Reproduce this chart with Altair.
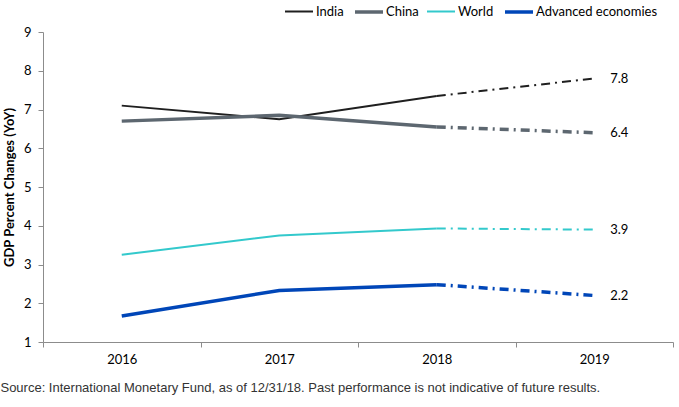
import altair as alt
import pandas as pd

years = ["2016", "2017", "2018", "2019"]
series = ["India", "China", "World", "Advanced economies"]
india = [7.1, 6.75, 7.35, 7.8]
china = [6.7, 6.85, 6.55, 6.4]
world = [3.25, 3.75, 3.93, 3.9]
advanced = [1.67, 2.33, 2.48, 2.2]
colors = ["#1f1f1f", "#5d6770", "#33c9cc", "#0046b8"]
widths = [2, 3.5, 2, 3.5]
footer = "Source: International Monetary Fund, as of 12/31/18. Past performance is not indicative of future results."

vals = {"India": india, "China": china, "World": world, "Advanced economies": advanced}
rows = []
for s in series:
    for y, v in zip(years, vals[s]):
        rows.append({"year": y, "series": s, "value": v})
df = pd.DataFrame(rows)
solid = df[df.year != "2019"]
dashed = df[df.year.isin(["2018", "2019"])]
labels = df[df.year == "2019"]

FONT = "Lato"

x = alt.X("year:N", sort=years, title=None,
          scale=alt.Scale(paddingInner=0, paddingOuter=0, domain=years),
          axis=alt.Axis(labelAngle=0, tickBand="extent", domainColor="#8c8c8c",
                        tickColor="#8c8c8c", tickSize=5, labelPadding=6,
                        labelFontSize=13, labelFont=FONT, labelColor="#000"))
y = alt.Y("value:Q", title="GDP Percent Changes (YoY)",
          scale=alt.Scale(domain=[1, 9], nice=False),
          axis=alt.Axis(values=list(range(1, 10)), grid=False, domainColor="#8c8c8c",
                        tickColor="#8c8c8c", tickSize=5, labelPadding=7,
                        labelFontSize=13, labelFont=FONT, labelColor="#000",
                        titleFont=FONT, titleFontSize=13, titleFontWeight="bold",
                        titleColor="#000", titlePadding=7))
legend = alt.Legend(orient="none", legendX=240, legendY=-36, direction="horizontal",
                    title=None, symbolType="stroke", symbolSize=784,
                    labelFont=FONT, labelFontSize=13, labelColor="#000",
                    columnPadding=4, labelOffset=1, columns=4)
cscale = alt.Scale(domain=series, range=colors)
wscale = alt.Scale(type="ordinal", domain=series, range=widths)
color = alt.Color("series:N", sort=series, scale=cscale, legend=legend)
sw = alt.StrokeWidth("series:N", sort=series, scale=wscale, legend=legend)

solid_lines = alt.Chart(solid).mark_line().encode(x=x, y=y, color=color, strokeWidth=sw, detail="series:N")
dash_lines = alt.Chart(dashed).mark_line(strokeDash=[9, 5, 2, 5]).encode(
    x=x, y=y,
    color=alt.Color("series:N", sort=series, scale=cscale, legend=None),
    strokeWidth=alt.StrokeWidth("series:N", sort=series, scale=wscale, legend=None),
    detail="series:N")
text = alt.Chart(labels).mark_text(align="left", dx=16, font=FONT, fontSize=13, color="#000").encode(
    x=x, y=y, text=alt.Text("value:Q", format=".1f"))

chart = alt.layer(solid_lines, dash_lines, text).properties(
    width=630, height=310,
    padding={"left": 43, "top": 32, "right": 6, "bottom": 65},
    autosize=alt.AutoSizeParams(type="none"),
    title=alt.TitleParams(footer, orient="bottom", anchor="start", offset=16, dx=-3,
                          font="Liberation Sans", fontSize=13, fontWeight="normal", color="#333"),
).configure_view(stroke=None).configure_axis(labelFont=FONT)

chart.save("out.html", embed_options={"renderer": "svg", "actions": False})
